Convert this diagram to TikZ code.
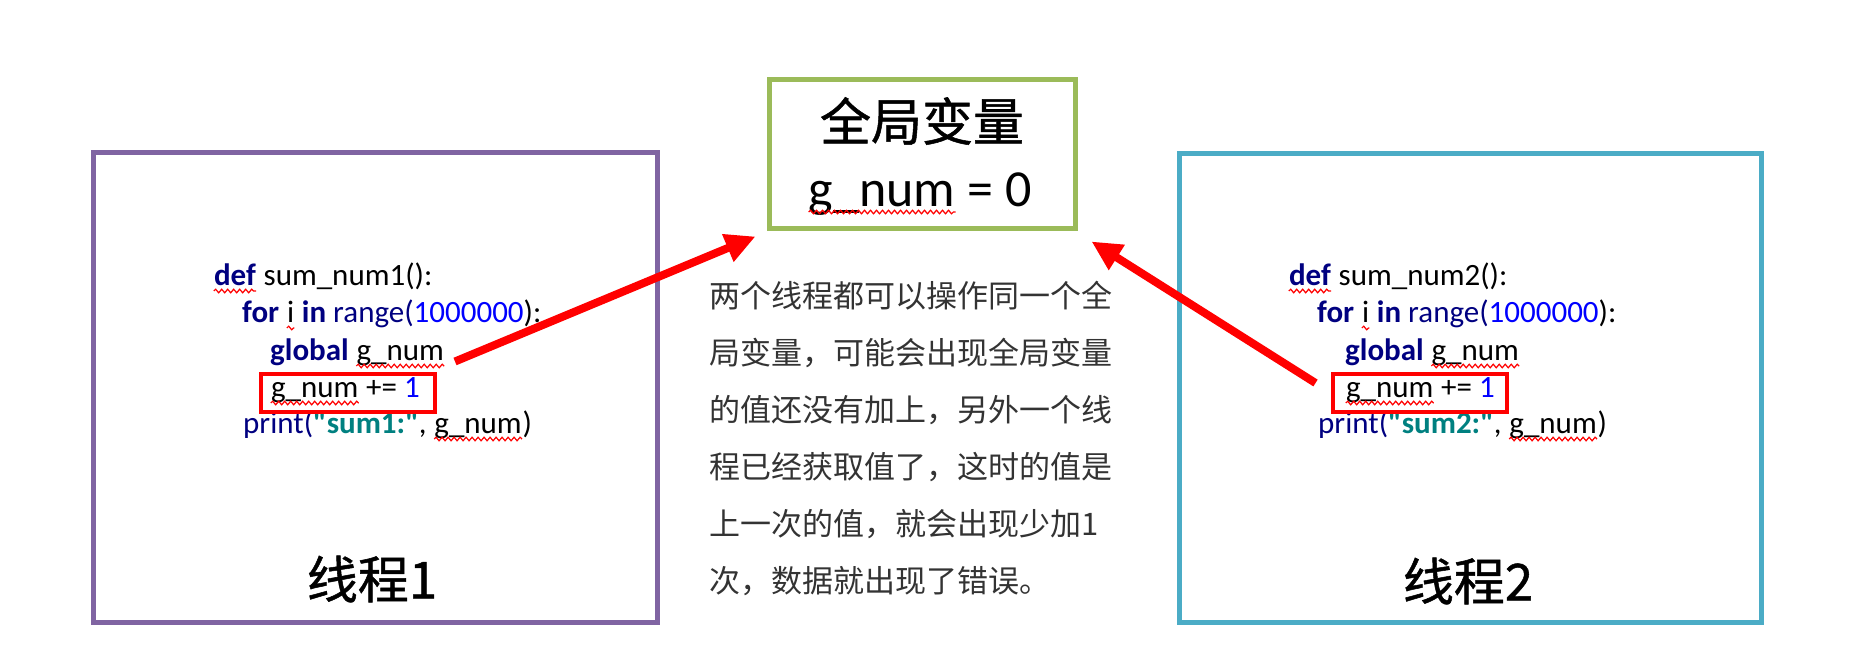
\documentclass[tikz,border=0pt]{standalone}
\usepackage{fontspec}
\setmainfont{Carlito}
\newfontfamily\codefont{Carlito}
\newfontfamily\cjk{Noto Sans CJK SC}
\newfontfamily\cjkheavy{Noto Sans CJK SC}[FakeBold=1]
\usetikzlibrary{arrows.meta,decorations.pathmorphing}

\definecolor{thrpurple}{HTML}{8064A2}
\definecolor{thrteal}{HTML}{4BACC6}
\definecolor{globgreen}{HTML}{9BBB59}
\definecolor{kwblue}{HTML}{000080}
\definecolor{numblue}{HTML}{0000FF}
\definecolor{strteal}{HTML}{008080}
\definecolor{desctext}{HTML}{333333}

\newcommand\spell[1]{\tikz[baseline=0pt,x=1pt,y=1pt]{\node[inner sep=0pt,anchor=base west] (sp) at (0,0) {#1};
  \draw[red,line width=1.2pt,decorate,decoration={snake,segment length=6pt,amplitude=1.8pt}] ([yshift=-6pt]sp.base west) -- ([yshift=-6pt]sp.base east);}}
\newcommand\kw[1]{\textbf{\color{kwblue}#1}}
\newcommand\fn[1]{{\color{kwblue}#1}}
\newcommand\numlit[1]{{\color{numblue}#1}}
\newcommand\strlit[1]{\textbf{\color{strteal}#1}}

\tikzset{
  thread/.style={draw,line width=5pt,minimum height=469pt,inner sep=0pt},
  globbox/.style={draw=globgreen,line width=5pt,minimum width=306pt,minimum height=148pt,inner sep=0pt},
  hlbox/.style={draw=red,line width=4pt,minimum width=174pt,minimum height=38pt,inner sep=0pt},
  codeline/.style={anchor=base west,inner sep=0pt,font=\codefont\fontsize{31}{36}\selectfont},
  bigcjk/.style={inner sep=0pt,font=\cjkheavy\fontsize{51}{60}\selectfont},
  desc/.style={anchor=west,inner sep=0pt,text=desctext,font=\cjk\fontsize{31}{40}\selectfont},
  hlarrow/.style={draw=red,line width=8pt,-{Triangle[length=30pt,width=28pt]}}
}

\begin{document}
\begin{tikzpicture}[x=1pt,y=-1pt]

  \useasboundingbox (0,0) rectangle (1858,658);

  % boxes
  \node[thread,draw=thrpurple,minimum width=564pt] (thr1) at (375,387.5) {};
  \node[thread,draw=thrteal,minimum width=582pt] (thr2) at (1470,388) {};
  \node[globbox] (globvar) at (922,154) {};

  \node[bigcjk] (gtitle) at (922,121) {全局变量};
  \node[inner sep=0pt,anchor=base,font=\codefont\fontsize{52}{60}\selectfont] (gvalue) at (920,206) {\spell{g\_num} = 0};

  \node[bigcjk] (lbl1) at (372,579) {线程1};
  \node[bigcjk] (lbl2) at (1468,581) {线程2};

  % code of both threads
  \foreach \t/\dx in {1/0,2/1075} {
    \node[codeline] (def\t)   at (213+\dx,285) {\kw{\spell{def}} sum\_num\t():};
    \node[codeline] (for\t)   at (242+\dx,322) {\kw{for} \spell{i} \kw{in} \fn{range(}\numlit{1000000}):};
    \node[codeline] (glob\t)  at (270+\dx,360) {\kw{global} \spell{g\_num}};
    \node[codeline] (inc\t)   at (270+\dx,397) {\spell{g\_num} += \numlit{1}};
    \node[codeline] (print\t) at (243+\dx,433) {\fn{print(}\strlit{"sum\t:"}, \spell{g\_num})};
  }

  \node[hlbox] (hl1) at (348,392.5) {};
  \node[hlbox] (hl2) at (1419.5,392.5) {};

  % explanation
  \foreach \txt [count=\i] in {两个线程都可以操作同一个全,局变量，可能会出现全局变量,的值还没有加上，另外一个线,程已经获取值了，这时的值是,上一次的值，就会出现少加1,次，数据就出现了错误。}
    \node[desc] (desc\i) at (709,239+57*\i) {\txt};

  \draw[hlarrow] ([shift={(18,-10)}]hl1.north east) -- ([shift={(-11,6)}]globvar.south west);
  \draw[hlarrow] ([shift={(-15,-9.5)}]hl2.west) -- ([shift={(14,11)}]globvar.south east);

\end{tikzpicture}
\end{document}
